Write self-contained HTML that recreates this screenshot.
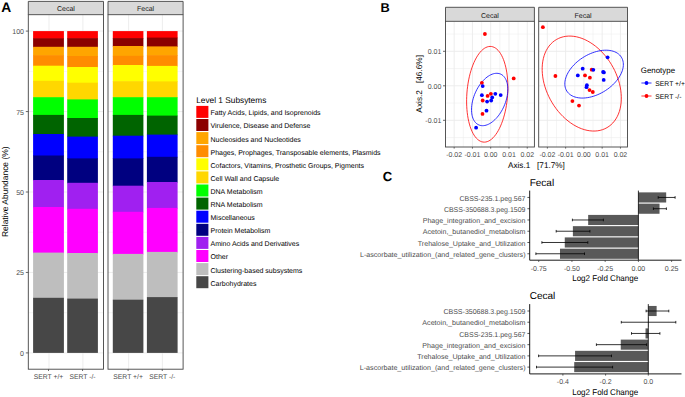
<!DOCTYPE html>
<html><head><meta charset="utf-8"><style>
html,body{margin:0;padding:0;background:#fff;}
svg{display:block;font-family:"Liberation Sans", sans-serif;text-rendering:geometricPrecision;}
</style></head><body>
<svg width="685" height="397" viewBox="0 0 685 397">
<rect width="685" height="397" fill="#fff"/>
<text x="1.20" y="12.00" font-size="13.8" text-anchor="start" fill="#000" font-weight="bold" >A</text>
<rect x="28.30" y="14.70" width="75.20" height="354.50" fill="#FFFFFF"/>
<line x1="28.30" y1="312.68" x2="103.50" y2="312.68" stroke="#EBEBEB" stroke-width="0.5"/>
<line x1="28.30" y1="232.22" x2="103.50" y2="232.22" stroke="#EBEBEB" stroke-width="0.5"/>
<line x1="28.30" y1="151.78" x2="103.50" y2="151.78" stroke="#EBEBEB" stroke-width="0.5"/>
<line x1="28.30" y1="71.33" x2="103.50" y2="71.33" stroke="#EBEBEB" stroke-width="0.5"/>
<line x1="28.30" y1="352.90" x2="103.50" y2="352.90" stroke="#EBEBEB" stroke-width="0.9"/>
<line x1="28.30" y1="272.45" x2="103.50" y2="272.45" stroke="#EBEBEB" stroke-width="0.9"/>
<line x1="28.30" y1="192.00" x2="103.50" y2="192.00" stroke="#EBEBEB" stroke-width="0.9"/>
<line x1="28.30" y1="111.55" x2="103.50" y2="111.55" stroke="#EBEBEB" stroke-width="0.9"/>
<line x1="28.30" y1="31.10" x2="103.50" y2="31.10" stroke="#EBEBEB" stroke-width="0.9"/>
<line x1="49.00" y1="14.70" x2="49.00" y2="369.20" stroke="#EBEBEB" stroke-width="0.9"/>
<line x1="82.90" y1="14.70" x2="82.90" y2="369.20" stroke="#EBEBEB" stroke-width="0.9"/>
<rect x="33.10" y="31.10" width="30.80" height="7.80" fill="#FF0000"/>
<rect x="33.10" y="38.30" width="30.80" height="9.10" fill="#8B0000"/>
<rect x="33.10" y="46.80" width="30.80" height="9.00" fill="#FFA500"/>
<rect x="33.10" y="55.20" width="30.80" height="11.10" fill="#FF8C00"/>
<rect x="33.10" y="65.70" width="30.80" height="15.70" fill="#FFFF00"/>
<rect x="33.10" y="80.80" width="30.80" height="17.00" fill="#FFD700"/>
<rect x="33.10" y="97.20" width="30.80" height="18.30" fill="#00FF00"/>
<rect x="33.10" y="114.90" width="30.80" height="19.70" fill="#006400"/>
<rect x="33.10" y="134.00" width="30.80" height="22.10" fill="#0000FF"/>
<rect x="33.10" y="155.50" width="30.80" height="25.10" fill="#000080"/>
<rect x="33.10" y="180.00" width="30.80" height="27.60" fill="#A020F0"/>
<rect x="33.10" y="207.00" width="30.80" height="46.20" fill="#FF00FF"/>
<rect x="33.10" y="252.60" width="30.80" height="45.80" fill="#BEBEBE"/>
<rect x="33.10" y="297.80" width="30.80" height="55.10" fill="#474747"/>
<rect x="67.20" y="31.10" width="30.70" height="7.70" fill="#FF0000"/>
<rect x="67.20" y="38.20" width="30.70" height="9.20" fill="#8B0000"/>
<rect x="67.20" y="46.80" width="30.70" height="9.80" fill="#FFA500"/>
<rect x="67.20" y="56.00" width="30.70" height="11.60" fill="#FF8C00"/>
<rect x="67.20" y="67.00" width="30.70" height="16.30" fill="#FFFF00"/>
<rect x="67.20" y="82.70" width="30.70" height="17.30" fill="#FFD700"/>
<rect x="67.20" y="99.40" width="30.70" height="19.20" fill="#00FF00"/>
<rect x="67.20" y="118.00" width="30.70" height="19.20" fill="#006400"/>
<rect x="67.20" y="136.60" width="30.70" height="22.40" fill="#0000FF"/>
<rect x="67.20" y="158.40" width="30.70" height="25.00" fill="#000080"/>
<rect x="67.20" y="182.80" width="30.70" height="26.60" fill="#A020F0"/>
<rect x="67.20" y="208.80" width="30.70" height="44.80" fill="#FF00FF"/>
<rect x="67.20" y="253.00" width="30.70" height="46.20" fill="#BEBEBE"/>
<rect x="67.20" y="298.60" width="30.70" height="54.30" fill="#474747"/>
<rect x="28.30" y="1.40" width="75.20" height="13.30" fill="#D9D9D9"/>
<path d="M28.30,14.70 V1.40 H103.50 V14.70" fill="none" stroke="#444444" stroke-width="0.9"/>
<rect x="28.30" y="14.70" width="75.20" height="354.50" fill="none" stroke="#444444" stroke-width="0.9"/>
<text x="65.90" y="11.20" font-size="7" text-anchor="middle" fill="#1A1A1A" font-weight="normal" >Cecal</text>
<line x1="48.50" y1="369.20" x2="48.50" y2="371.00" stroke="#444444" stroke-width="0.8"/>
<text x="48.50" y="379.30" font-size="6.8" text-anchor="middle" fill="#4D4D4D" font-weight="normal" >SERT +/+</text>
<line x1="82.55" y1="369.20" x2="82.55" y2="371.00" stroke="#444444" stroke-width="0.8"/>
<text x="82.55" y="379.30" font-size="6.8" text-anchor="middle" fill="#4D4D4D" font-weight="normal" >SERT -/-</text>
<rect x="108.00" y="14.70" width="75.10" height="354.50" fill="#FFFFFF"/>
<line x1="108.00" y1="312.68" x2="183.10" y2="312.68" stroke="#EBEBEB" stroke-width="0.5"/>
<line x1="108.00" y1="232.22" x2="183.10" y2="232.22" stroke="#EBEBEB" stroke-width="0.5"/>
<line x1="108.00" y1="151.78" x2="183.10" y2="151.78" stroke="#EBEBEB" stroke-width="0.5"/>
<line x1="108.00" y1="71.33" x2="183.10" y2="71.33" stroke="#EBEBEB" stroke-width="0.5"/>
<line x1="108.00" y1="352.90" x2="183.10" y2="352.90" stroke="#EBEBEB" stroke-width="0.9"/>
<line x1="108.00" y1="272.45" x2="183.10" y2="272.45" stroke="#EBEBEB" stroke-width="0.9"/>
<line x1="108.00" y1="192.00" x2="183.10" y2="192.00" stroke="#EBEBEB" stroke-width="0.9"/>
<line x1="108.00" y1="111.55" x2="183.10" y2="111.55" stroke="#EBEBEB" stroke-width="0.9"/>
<line x1="108.00" y1="31.10" x2="183.10" y2="31.10" stroke="#EBEBEB" stroke-width="0.9"/>
<line x1="128.60" y1="14.70" x2="128.60" y2="369.20" stroke="#EBEBEB" stroke-width="0.9"/>
<line x1="162.40" y1="14.70" x2="162.40" y2="369.20" stroke="#EBEBEB" stroke-width="0.9"/>
<rect x="112.80" y="31.10" width="30.60" height="7.60" fill="#FF0000"/>
<rect x="112.80" y="38.10" width="30.60" height="8.50" fill="#8B0000"/>
<rect x="112.80" y="46.00" width="30.60" height="10.40" fill="#FFA500"/>
<rect x="112.80" y="55.80" width="30.60" height="9.80" fill="#FF8C00"/>
<rect x="112.80" y="65.00" width="30.60" height="16.80" fill="#FFFF00"/>
<rect x="112.80" y="81.20" width="30.60" height="16.60" fill="#FFD700"/>
<rect x="112.80" y="97.20" width="30.60" height="18.30" fill="#00FF00"/>
<rect x="112.80" y="114.90" width="30.60" height="21.40" fill="#006400"/>
<rect x="112.80" y="135.70" width="30.60" height="23.30" fill="#0000FF"/>
<rect x="112.80" y="158.40" width="30.60" height="27.90" fill="#000080"/>
<rect x="112.80" y="185.70" width="30.60" height="26.70" fill="#A020F0"/>
<rect x="112.80" y="211.80" width="30.60" height="42.70" fill="#FF00FF"/>
<rect x="112.80" y="253.90" width="30.60" height="46.40" fill="#BEBEBE"/>
<rect x="112.80" y="299.70" width="30.60" height="53.20" fill="#474747"/>
<rect x="146.90" y="31.10" width="30.70" height="7.10" fill="#FF0000"/>
<rect x="146.90" y="37.60" width="30.70" height="9.40" fill="#8B0000"/>
<rect x="146.90" y="46.40" width="30.70" height="9.40" fill="#FFA500"/>
<rect x="146.90" y="55.20" width="30.70" height="11.30" fill="#FF8C00"/>
<rect x="146.90" y="65.90" width="30.70" height="16.10" fill="#FFFF00"/>
<rect x="146.90" y="81.40" width="30.70" height="16.40" fill="#FFD700"/>
<rect x="146.90" y="97.20" width="30.70" height="19.00" fill="#00FF00"/>
<rect x="146.90" y="115.60" width="30.70" height="19.60" fill="#006400"/>
<rect x="146.90" y="134.60" width="30.70" height="22.80" fill="#0000FF"/>
<rect x="146.90" y="156.80" width="30.70" height="25.80" fill="#000080"/>
<rect x="146.90" y="182.00" width="30.70" height="26.50" fill="#A020F0"/>
<rect x="146.90" y="207.90" width="30.70" height="44.60" fill="#FF00FF"/>
<rect x="146.90" y="251.90" width="30.70" height="45.80" fill="#BEBEBE"/>
<rect x="146.90" y="297.10" width="30.70" height="55.80" fill="#474747"/>
<rect x="108.00" y="1.40" width="75.10" height="13.30" fill="#D9D9D9"/>
<path d="M108.00,14.70 V1.40 H183.10 V14.70" fill="none" stroke="#444444" stroke-width="0.9"/>
<rect x="108.00" y="14.70" width="75.10" height="354.50" fill="none" stroke="#444444" stroke-width="0.9"/>
<text x="145.55" y="11.20" font-size="7" text-anchor="middle" fill="#1A1A1A" font-weight="normal" >Fecal</text>
<line x1="128.10" y1="369.20" x2="128.10" y2="371.00" stroke="#444444" stroke-width="0.8"/>
<text x="128.10" y="379.30" font-size="6.8" text-anchor="middle" fill="#4D4D4D" font-weight="normal" >SERT +/+</text>
<line x1="162.25" y1="369.20" x2="162.25" y2="371.00" stroke="#444444" stroke-width="0.8"/>
<text x="162.25" y="379.30" font-size="6.8" text-anchor="middle" fill="#4D4D4D" font-weight="normal" >SERT -/-</text>
<line x1="25.80" y1="352.90" x2="28.30" y2="352.90" stroke="#444444" stroke-width="0.8"/>
<text x="24.00" y="355.90" font-size="7" text-anchor="end" fill="#4D4D4D" font-weight="normal" >0</text>
<line x1="25.80" y1="272.45" x2="28.30" y2="272.45" stroke="#444444" stroke-width="0.8"/>
<text x="24.00" y="275.45" font-size="7" text-anchor="end" fill="#4D4D4D" font-weight="normal" >25</text>
<line x1="25.80" y1="192.00" x2="28.30" y2="192.00" stroke="#444444" stroke-width="0.8"/>
<text x="24.00" y="195.00" font-size="7" text-anchor="end" fill="#4D4D4D" font-weight="normal" >50</text>
<line x1="25.80" y1="111.55" x2="28.30" y2="111.55" stroke="#444444" stroke-width="0.8"/>
<text x="24.00" y="114.55" font-size="7" text-anchor="end" fill="#4D4D4D" font-weight="normal" >75</text>
<line x1="25.80" y1="31.10" x2="28.30" y2="31.10" stroke="#444444" stroke-width="0.8"/>
<text x="24.00" y="34.10" font-size="7" text-anchor="end" fill="#4D4D4D" font-weight="normal" >100</text>
<text transform="translate(7.5,191.75) rotate(-90)" font-size="8.45" text-anchor="middle" fill="#000">Relative Abundance (%)</text>
<text x="196.20" y="103.00" font-size="8.3" text-anchor="start" fill="#000" font-weight="normal" >Level 1 Subsytems</text>
<rect x="196.30" y="105.90" width="12.10" height="12.00" fill="#FF0000"/>
<text x="210.50" y="115.30" font-size="7.0" text-anchor="start" fill="#000" font-weight="normal" >Fatty Acids, Lipids, and Isoprenoids</text>
<rect x="196.30" y="119.00" width="12.10" height="12.00" fill="#8B0000"/>
<text x="210.50" y="128.40" font-size="7.0" text-anchor="start" fill="#000" font-weight="normal" >Virulence, Disease and Defense</text>
<rect x="196.30" y="132.10" width="12.10" height="12.00" fill="#FFA500"/>
<text x="210.50" y="141.50" font-size="7.0" text-anchor="start" fill="#000" font-weight="normal" >Nucleosides and Nucleotides</text>
<rect x="196.30" y="145.20" width="12.10" height="12.00" fill="#FF8C00"/>
<text x="210.50" y="154.60" font-size="7.0" text-anchor="start" fill="#000" font-weight="normal" >Phages, Prophages, Transposable elements, Plasmids</text>
<rect x="196.30" y="158.30" width="12.10" height="12.00" fill="#FFFF00"/>
<text x="210.50" y="167.70" font-size="7.0" text-anchor="start" fill="#000" font-weight="normal" >Cofactors, Vitamins, Prosthetic Groups, Pigments</text>
<rect x="196.30" y="171.40" width="12.10" height="12.00" fill="#FFD700"/>
<text x="210.50" y="180.80" font-size="7.0" text-anchor="start" fill="#000" font-weight="normal" >Cell Wall and Capsule</text>
<rect x="196.30" y="184.50" width="12.10" height="12.00" fill="#00FF00"/>
<text x="210.50" y="193.90" font-size="7.0" text-anchor="start" fill="#000" font-weight="normal" >DNA Metabolism</text>
<rect x="196.30" y="197.60" width="12.10" height="12.00" fill="#006400"/>
<text x="210.50" y="207.00" font-size="7.0" text-anchor="start" fill="#000" font-weight="normal" >RNA Metabolism</text>
<rect x="196.30" y="210.70" width="12.10" height="12.00" fill="#0000FF"/>
<text x="210.50" y="220.10" font-size="7.0" text-anchor="start" fill="#000" font-weight="normal" >Miscellaneous</text>
<rect x="196.30" y="223.80" width="12.10" height="12.00" fill="#000080"/>
<text x="210.50" y="233.20" font-size="7.0" text-anchor="start" fill="#000" font-weight="normal" >Protein Metabolism</text>
<rect x="196.30" y="236.90" width="12.10" height="12.00" fill="#A020F0"/>
<text x="210.50" y="246.30" font-size="7.0" text-anchor="start" fill="#000" font-weight="normal" >Amino Acids and Derivatives</text>
<rect x="196.30" y="250.00" width="12.10" height="12.00" fill="#FF00FF"/>
<text x="210.50" y="259.40" font-size="7.0" text-anchor="start" fill="#000" font-weight="normal" >Other</text>
<rect x="196.30" y="263.10" width="12.10" height="12.00" fill="#BEBEBE"/>
<text x="210.50" y="272.50" font-size="7.0" text-anchor="start" fill="#000" font-weight="normal" >Clustering-based subsystems</text>
<rect x="196.30" y="276.20" width="12.10" height="12.00" fill="#474747"/>
<text x="210.50" y="285.60" font-size="7.0" text-anchor="start" fill="#000" font-weight="normal" >Carbohydrates</text>
<text x="380.60" y="12.30" font-size="12.8" text-anchor="start" fill="#000" font-weight="bold" >B</text>
<rect x="445.50" y="21.30" width="88.90" height="125.70" fill="#FFFFFF"/>
<clipPath id="cp0"><rect x="445.5" y="21.3" width="88.89999999999998" height="125.7"/></clipPath>
<g clip-path="url(#cp0)">
<line x1="445.02" y1="21.30" x2="445.02" y2="147.00" stroke="#EBEBEB" stroke-width="0.5"/>
<line x1="463.30" y1="21.30" x2="463.30" y2="147.00" stroke="#EBEBEB" stroke-width="0.5"/>
<line x1="481.56" y1="21.30" x2="481.56" y2="147.00" stroke="#EBEBEB" stroke-width="0.5"/>
<line x1="499.83" y1="21.30" x2="499.83" y2="147.00" stroke="#EBEBEB" stroke-width="0.5"/>
<line x1="518.11" y1="21.30" x2="518.11" y2="147.00" stroke="#EBEBEB" stroke-width="0.5"/>
<line x1="536.38" y1="21.30" x2="536.38" y2="147.00" stroke="#EBEBEB" stroke-width="0.5"/>
<line x1="445.50" y1="137.55" x2="534.40" y2="137.55" stroke="#EBEBEB" stroke-width="0.5"/>
<line x1="445.50" y1="103.05" x2="534.40" y2="103.05" stroke="#EBEBEB" stroke-width="0.5"/>
<line x1="445.50" y1="68.55" x2="534.40" y2="68.55" stroke="#EBEBEB" stroke-width="0.5"/>
<line x1="445.50" y1="34.05" x2="534.40" y2="34.05" stroke="#EBEBEB" stroke-width="0.5"/>
<line x1="454.16" y1="21.30" x2="454.16" y2="147.00" stroke="#EBEBEB" stroke-width="0.9"/>
<line x1="472.43" y1="21.30" x2="472.43" y2="147.00" stroke="#EBEBEB" stroke-width="0.9"/>
<line x1="490.70" y1="21.30" x2="490.70" y2="147.00" stroke="#EBEBEB" stroke-width="0.9"/>
<line x1="508.97" y1="21.30" x2="508.97" y2="147.00" stroke="#EBEBEB" stroke-width="0.9"/>
<line x1="527.24" y1="21.30" x2="527.24" y2="147.00" stroke="#EBEBEB" stroke-width="0.9"/>
<line x1="445.50" y1="120.30" x2="534.40" y2="120.30" stroke="#EBEBEB" stroke-width="0.9"/>
<line x1="445.50" y1="85.80" x2="534.40" y2="85.80" stroke="#EBEBEB" stroke-width="0.9"/>
<line x1="445.50" y1="51.30" x2="534.40" y2="51.30" stroke="#EBEBEB" stroke-width="0.9"/>
<polygon points="507.78,92.19 507.59,95.53 507.29,98.86 506.90,102.17 506.41,105.45 505.83,108.67 505.16,111.81 504.40,114.88 503.55,117.84 502.63,120.69 501.63,123.41 500.57,125.99 499.43,128.41 498.24,130.67 497.00,132.75 495.70,134.64 494.37,136.34 493.00,137.83 491.60,139.11 490.19,140.17 488.75,141.00 487.31,141.61 485.87,141.99 484.44,142.14 483.02,142.05 481.62,141.73 480.25,141.18 478.91,140.40 477.62,139.40 476.37,138.17 475.17,136.74 474.03,135.09 472.96,133.25 471.95,131.21 471.02,129.00 470.17,126.62 469.41,124.08 468.73,121.39 468.14,118.58 467.64,115.64 467.24,112.60 466.93,109.47 466.73,106.27 466.62,103.01 466.62,99.70 466.72,96.37 466.91,93.03 467.21,89.70 467.60,86.39 468.09,83.11 468.67,79.89 469.34,76.75 470.10,73.68 470.95,70.72 471.87,67.87 472.87,65.15 473.93,62.57 475.07,60.15 476.26,57.89 477.50,55.81 478.80,53.92 480.13,52.22 481.50,50.73 482.90,49.45 484.31,48.39 485.75,47.56 487.19,46.95 488.63,46.57 490.06,46.42 491.48,46.51 492.88,46.83 494.25,47.38 495.59,48.16 496.88,49.16 498.13,50.39 499.33,51.82 500.47,53.47 501.54,55.31 502.55,57.35 503.48,59.56 504.33,61.94 505.09,64.48 505.77,67.17 506.36,69.98 506.86,72.92 507.26,75.96 507.57,79.09 507.77,82.29 507.88,85.55 507.88,88.86" fill="none" stroke="#FF0000" stroke-width="0.8"/>
<polygon points="507.32,95.24 506.99,97.05 506.56,98.88 506.05,100.70 505.47,102.53 504.81,104.34 504.07,106.12 503.26,107.87 502.39,109.58 501.45,111.24 500.46,112.85 499.42,114.39 498.32,115.86 497.19,117.24 496.02,118.54 494.81,119.75 493.59,120.86 492.34,121.87 491.08,122.76 489.81,123.55 488.55,124.21 487.29,124.76 486.04,125.18 484.80,125.48 483.59,125.65 482.42,125.69 481.27,125.60 480.17,125.39 479.11,125.05 478.11,124.59 477.16,124.01 476.27,123.30 475.45,122.48 474.70,121.55 474.02,120.51 473.41,119.37 472.89,118.13 472.44,116.80 472.08,115.38 471.81,113.89 471.63,112.33 471.53,110.70 471.52,109.03 471.59,107.30 471.76,105.54 472.02,103.74 472.35,101.93 472.78,100.10 473.29,98.28 473.87,96.45 474.53,94.64 475.27,92.86 476.08,91.11 476.95,89.40 477.89,87.74 478.88,86.13 479.92,84.59 481.02,83.12 482.15,81.74 483.32,80.44 484.53,79.23 485.75,78.12 487.00,77.11 488.26,76.22 489.53,75.43 490.79,74.77 492.05,74.22 493.30,73.80 494.54,73.50 495.75,73.33 496.92,73.29 498.07,73.38 499.17,73.59 500.23,73.93 501.23,74.39 502.18,74.97 503.07,75.68 503.89,76.50 504.64,77.43 505.32,78.47 505.93,79.61 506.45,80.85 506.90,82.18 507.26,83.60 507.53,85.09 507.71,86.65 507.81,88.28 507.82,89.95 507.75,91.68 507.58,93.44" fill="none" stroke="#0000FF" stroke-width="0.8"/>
<circle cx="481.9" cy="82.8" r="1.9" fill="#FF0000"/>
<circle cx="513.7" cy="78.4" r="1.9" fill="#FF0000"/>
<circle cx="487.6" cy="95.9" r="1.9" fill="#FF0000"/>
<circle cx="490.9" cy="93.8" r="1.9" fill="#FF0000"/>
<circle cx="482.7" cy="100.5" r="1.9" fill="#FF0000"/>
<circle cx="482.5" cy="113.9" r="1.9" fill="#FF0000"/>
<circle cx="484.9" cy="34.0" r="1.9" fill="#FF0000"/>
<circle cx="482.7" cy="86.1" r="1.9" fill="#0000FF"/>
<circle cx="481.9" cy="95.2" r="1.9" fill="#0000FF"/>
<circle cx="495.3" cy="93.8" r="1.9" fill="#0000FF"/>
<circle cx="500.7" cy="95.1" r="1.9" fill="#0000FF"/>
<circle cx="492.2" cy="97.4" r="1.9" fill="#0000FF"/>
<circle cx="491.2" cy="100.5" r="1.9" fill="#0000FF"/>
<circle cx="487.1" cy="101.6" r="1.9" fill="#0000FF"/>
<circle cx="486.5" cy="110.7" r="1.9" fill="#0000FF"/>
<circle cx="476.1" cy="127.7" r="1.9" fill="#0000FF"/>
</g>
<rect x="445.50" y="7.30" width="88.90" height="14.00" fill="#D9D9D9"/>
<path d="M445.50,21.30 V7.30 H534.40 V21.30" fill="none" stroke="#444444" stroke-width="0.9"/>
<rect x="445.50" y="21.30" width="88.90" height="125.70" fill="none" stroke="#444444" stroke-width="0.9"/>
<text x="489.95" y="17.70" font-size="7" text-anchor="middle" fill="#1A1A1A" font-weight="normal" >Cecal</text>
<line x1="454.16" y1="147.00" x2="454.16" y2="148.60" stroke="#444444" stroke-width="0.8"/>
<text x="454.16" y="157.00" font-size="7" text-anchor="middle" fill="#4D4D4D" font-weight="normal" >-0.02</text>
<line x1="472.43" y1="147.00" x2="472.43" y2="148.60" stroke="#444444" stroke-width="0.8"/>
<text x="472.43" y="157.00" font-size="7" text-anchor="middle" fill="#4D4D4D" font-weight="normal" >-0.01</text>
<line x1="490.70" y1="147.00" x2="490.70" y2="148.60" stroke="#444444" stroke-width="0.8"/>
<text x="490.70" y="157.00" font-size="7" text-anchor="middle" fill="#4D4D4D" font-weight="normal" >0.00</text>
<line x1="508.97" y1="147.00" x2="508.97" y2="148.60" stroke="#444444" stroke-width="0.8"/>
<text x="508.97" y="157.00" font-size="7" text-anchor="middle" fill="#4D4D4D" font-weight="normal" >0.01</text>
<line x1="527.24" y1="147.00" x2="527.24" y2="148.60" stroke="#444444" stroke-width="0.8"/>
<text x="527.24" y="157.00" font-size="7" text-anchor="middle" fill="#4D4D4D" font-weight="normal" >0.02</text>
<rect x="538.70" y="21.30" width="88.80" height="125.70" fill="#FFFFFF"/>
<clipPath id="cp1"><rect x="538.7" y="21.3" width="88.79999999999995" height="125.7"/></clipPath>
<g clip-path="url(#cp1)">
<line x1="538.23" y1="21.30" x2="538.23" y2="147.00" stroke="#EBEBEB" stroke-width="0.5"/>
<line x1="556.50" y1="21.30" x2="556.50" y2="147.00" stroke="#EBEBEB" stroke-width="0.5"/>
<line x1="574.77" y1="21.30" x2="574.77" y2="147.00" stroke="#EBEBEB" stroke-width="0.5"/>
<line x1="593.04" y1="21.30" x2="593.04" y2="147.00" stroke="#EBEBEB" stroke-width="0.5"/>
<line x1="611.31" y1="21.30" x2="611.31" y2="147.00" stroke="#EBEBEB" stroke-width="0.5"/>
<line x1="629.58" y1="21.30" x2="629.58" y2="147.00" stroke="#EBEBEB" stroke-width="0.5"/>
<line x1="538.70" y1="137.55" x2="627.50" y2="137.55" stroke="#EBEBEB" stroke-width="0.5"/>
<line x1="538.70" y1="103.05" x2="627.50" y2="103.05" stroke="#EBEBEB" stroke-width="0.5"/>
<line x1="538.70" y1="68.55" x2="627.50" y2="68.55" stroke="#EBEBEB" stroke-width="0.5"/>
<line x1="538.70" y1="34.05" x2="627.50" y2="34.05" stroke="#EBEBEB" stroke-width="0.5"/>
<line x1="547.36" y1="21.30" x2="547.36" y2="147.00" stroke="#EBEBEB" stroke-width="0.9"/>
<line x1="565.63" y1="21.30" x2="565.63" y2="147.00" stroke="#EBEBEB" stroke-width="0.9"/>
<line x1="583.90" y1="21.30" x2="583.90" y2="147.00" stroke="#EBEBEB" stroke-width="0.9"/>
<line x1="602.17" y1="21.30" x2="602.17" y2="147.00" stroke="#EBEBEB" stroke-width="0.9"/>
<line x1="620.44" y1="21.30" x2="620.44" y2="147.00" stroke="#EBEBEB" stroke-width="0.9"/>
<line x1="538.70" y1="120.30" x2="627.50" y2="120.30" stroke="#EBEBEB" stroke-width="0.9"/>
<line x1="538.70" y1="85.80" x2="627.50" y2="85.80" stroke="#EBEBEB" stroke-width="0.9"/>
<line x1="538.70" y1="51.30" x2="627.50" y2="51.30" stroke="#EBEBEB" stroke-width="0.9"/>
<polygon points="620.77,90.23 621.14,93.50 621.32,96.71 621.31,99.87 621.10,102.94 620.70,105.92 620.11,108.79 619.34,111.53 618.38,114.14 617.24,116.60 615.93,118.90 614.46,121.03 612.82,122.97 611.03,124.73 609.10,126.28 607.04,127.62 604.85,128.75 602.56,129.66 600.16,130.35 597.67,130.81 595.10,131.03 592.47,131.03 589.78,130.79 587.06,130.33 584.31,129.63 581.55,128.72 578.78,127.58 576.04,126.22 573.32,124.66 570.64,122.90 568.02,120.95 565.46,118.82 562.98,116.51 560.60,114.04 558.31,111.43 556.15,108.68 554.10,105.80 552.19,102.82 550.43,99.75 548.81,96.59 547.36,93.37 546.08,90.11 544.97,86.81 544.04,83.50 543.29,80.18 542.73,76.89 542.36,73.62 542.18,70.41 542.19,67.25 542.40,64.18 542.80,61.20 543.39,58.33 544.16,55.59 545.12,52.98 546.26,50.52 547.57,48.22 549.04,46.09 550.68,44.15 552.47,42.39 554.40,40.84 556.46,39.50 558.65,38.37 560.94,37.46 563.34,36.77 565.83,36.31 568.40,36.09 571.03,36.09 573.72,36.33 576.44,36.79 579.19,37.49 581.95,38.40 584.72,39.54 587.46,40.90 590.18,42.46 592.86,44.22 595.48,46.17 598.04,48.30 600.52,50.61 602.90,53.08 605.19,55.69 607.35,58.44 609.40,61.32 611.31,64.30 613.07,67.37 614.69,70.53 616.14,73.75 617.42,77.01 618.53,80.31 619.46,83.62 620.21,86.94" fill="none" stroke="#FF0000" stroke-width="0.8"/>
<polygon points="622.85,68.71 622.41,70.35 621.82,72.01 621.10,73.68 620.24,75.35 619.26,77.01 618.16,78.66 616.94,80.29 615.61,81.89 614.17,83.45 612.64,84.97 611.01,86.43 609.31,87.83 607.53,89.17 605.68,90.43 603.78,91.61 601.83,92.71 599.84,93.72 597.82,94.63 595.79,95.44 593.75,96.15 591.71,96.75 589.68,97.24 587.67,97.62 585.69,97.89 583.76,98.04 581.87,98.07 580.05,97.98 578.29,97.78 576.61,97.46 575.01,97.03 573.51,96.49 572.11,95.84 570.81,95.09 569.63,94.23 568.57,93.27 567.63,92.22 566.82,91.08 566.15,89.86 565.61,88.57 565.21,87.20 564.95,85.77 564.83,84.28 564.85,82.74 565.02,81.16 565.33,79.55 565.77,77.91 566.36,76.25 567.08,74.58 567.94,72.91 568.92,71.25 570.02,69.60 571.24,67.97 572.57,66.37 574.01,64.81 575.54,63.29 577.17,61.83 578.87,60.43 580.65,59.09 582.50,57.83 584.40,56.65 586.35,55.55 588.34,54.54 590.36,53.63 592.39,52.82 594.43,52.11 596.47,51.51 598.50,51.02 600.51,50.64 602.49,50.37 604.42,50.22 606.31,50.19 608.13,50.28 609.89,50.48 611.57,50.80 613.17,51.23 614.67,51.77 616.07,52.42 617.37,53.17 618.55,54.03 619.61,54.99 620.55,56.04 621.36,57.18 622.03,58.40 622.57,59.69 622.97,61.06 623.23,62.49 623.35,63.98 623.33,65.52 623.16,67.10" fill="none" stroke="#0000FF" stroke-width="0.8"/>
<circle cx="542.9" cy="27.2" r="1.9" fill="#FF0000"/>
<circle cx="555.4" cy="76" r="1.9" fill="#FF0000"/>
<circle cx="591.7" cy="69.7" r="1.9" fill="#FF0000"/>
<circle cx="585" cy="75.4" r="1.9" fill="#FF0000"/>
<circle cx="589.9" cy="77.7" r="1.9" fill="#FF0000"/>
<circle cx="589.5" cy="90.1" r="1.9" fill="#FF0000"/>
<circle cx="592.8" cy="92" r="1.9" fill="#FF0000"/>
<circle cx="572.4" cy="101.1" r="1.9" fill="#FF0000"/>
<circle cx="579" cy="105.6" r="1.9" fill="#FF0000"/>
<circle cx="607.6" cy="57.3" r="1.9" fill="#0000FF"/>
<circle cx="582.7" cy="68.7" r="1.9" fill="#0000FF"/>
<circle cx="593.3" cy="69.8" r="1.9" fill="#0000FF"/>
<circle cx="603.1" cy="71.9" r="1.9" fill="#0000FF"/>
<circle cx="603.9" cy="72.4" r="1.9" fill="#0000FF"/>
<circle cx="577.8" cy="75.4" r="1.9" fill="#0000FF"/>
<circle cx="603.7" cy="79.9" r="1.9" fill="#0000FF"/>
<circle cx="586.9" cy="85.2" r="1.9" fill="#0000FF"/>
<circle cx="586.5" cy="87.2" r="1.9" fill="#0000FF"/>
</g>
<rect x="538.70" y="7.30" width="88.80" height="14.00" fill="#D9D9D9"/>
<path d="M538.70,21.30 V7.30 H627.50 V21.30" fill="none" stroke="#444444" stroke-width="0.9"/>
<rect x="538.70" y="21.30" width="88.80" height="125.70" fill="none" stroke="#444444" stroke-width="0.9"/>
<text x="583.10" y="17.70" font-size="7" text-anchor="middle" fill="#1A1A1A" font-weight="normal" >Fecal</text>
<line x1="547.36" y1="147.00" x2="547.36" y2="148.60" stroke="#444444" stroke-width="0.8"/>
<text x="547.36" y="157.00" font-size="7" text-anchor="middle" fill="#4D4D4D" font-weight="normal" >-0.02</text>
<line x1="565.63" y1="147.00" x2="565.63" y2="148.60" stroke="#444444" stroke-width="0.8"/>
<text x="565.63" y="157.00" font-size="7" text-anchor="middle" fill="#4D4D4D" font-weight="normal" >-0.01</text>
<line x1="583.90" y1="147.00" x2="583.90" y2="148.60" stroke="#444444" stroke-width="0.8"/>
<text x="583.90" y="157.00" font-size="7" text-anchor="middle" fill="#4D4D4D" font-weight="normal" >0.00</text>
<line x1="602.17" y1="147.00" x2="602.17" y2="148.60" stroke="#444444" stroke-width="0.8"/>
<text x="602.17" y="157.00" font-size="7" text-anchor="middle" fill="#4D4D4D" font-weight="normal" >0.01</text>
<line x1="620.44" y1="147.00" x2="620.44" y2="148.60" stroke="#444444" stroke-width="0.8"/>
<text x="620.44" y="157.00" font-size="7" text-anchor="middle" fill="#4D4D4D" font-weight="normal" >0.02</text>
<line x1="443.00" y1="51.30" x2="445.50" y2="51.30" stroke="#444444" stroke-width="0.8"/>
<text x="441.30" y="54.20" font-size="7" text-anchor="end" fill="#4D4D4D" font-weight="normal" >0.01</text>
<line x1="443.00" y1="85.80" x2="445.50" y2="85.80" stroke="#444444" stroke-width="0.8"/>
<text x="441.30" y="88.70" font-size="7" text-anchor="end" fill="#4D4D4D" font-weight="normal" >0.00</text>
<line x1="443.00" y1="120.30" x2="445.50" y2="120.30" stroke="#444444" stroke-width="0.8"/>
<text x="441.30" y="123.20" font-size="7" text-anchor="end" fill="#4D4D4D" font-weight="normal" >-0.01</text>
<text transform="translate(421.9,83.8) rotate(-90)" font-size="8.3" text-anchor="middle" fill="#000" xml:space="preserve">Axis.2   [46.6%]</text>
<text x="536.4" y="167.5" font-size="8.2" text-anchor="middle" fill="#000" xml:space="preserve">Axis.1   [71.7%]</text>
<text x="640.80" y="72.80" font-size="7.9" text-anchor="start" fill="#000" font-weight="normal" >Genotype</text>
<line x1="641.40" y1="83.00" x2="651.50" y2="83.00" stroke="#0000FF" stroke-width="0.8"/>
<circle cx="646.5" cy="83.0" r="1.9" fill="#0000FF"/>
<text x="655.30" y="85.90" font-size="6.8" text-anchor="start" fill="#000" font-weight="normal" >SERT +/+</text>
<line x1="641.40" y1="96.00" x2="651.50" y2="96.00" stroke="#FF0000" stroke-width="0.8"/>
<circle cx="646.5" cy="96.0" r="1.9" fill="#FF0000"/>
<text x="655.30" y="98.90" font-size="6.8" text-anchor="start" fill="#000" font-weight="normal" >SERT -/-</text>
<text x="382.80" y="181.30" font-size="13.1" text-anchor="start" fill="#000" font-weight="bold" >C</text>
<text x="529.70" y="185.80" font-size="10" text-anchor="start" fill="#000" font-weight="normal" >Fecal</text>
<rect x="638.40" y="192.38" width="27.78" height="10.13" fill="#595959"/>
<rect x="638.40" y="203.64" width="21.13" height="10.13" fill="#595959"/>
<rect x="588.16" y="214.91" width="50.24" height="10.13" fill="#595959"/>
<rect x="572.88" y="226.16" width="65.52" height="10.13" fill="#595959"/>
<rect x="564.77" y="237.42" width="73.63" height="10.13" fill="#595959"/>
<rect x="559.99" y="248.69" width="78.41" height="10.13" fill="#595959"/>
<line x1="638.40" y1="190.60" x2="638.40" y2="260.20" stroke="#000" stroke-width="0.8"/>
<line x1="658.20" y1="197.45" x2="675.10" y2="197.45" stroke="#000" stroke-width="0.8"/>
<line x1="658.20" y1="196.15" x2="658.20" y2="198.75" stroke="#000" stroke-width="0.8"/>
<line x1="675.10" y1="196.15" x2="675.10" y2="198.75" stroke="#000" stroke-width="0.8"/>
<line x1="527.40" y1="197.45" x2="529.70" y2="197.45" stroke="#333" stroke-width="0.8"/>
<text x="525.50" y="200.65" font-size="7.05" text-anchor="end" fill="#4D4D4D" font-weight="normal" textLength="66.00" lengthAdjust="spacingAndGlyphs">CBSS-235.1.peg.567</text>
<line x1="653.40" y1="208.71" x2="666.40" y2="208.71" stroke="#000" stroke-width="0.8"/>
<line x1="653.40" y1="207.41" x2="653.40" y2="210.01" stroke="#000" stroke-width="0.8"/>
<line x1="666.40" y1="207.41" x2="666.40" y2="210.01" stroke="#000" stroke-width="0.8"/>
<line x1="527.40" y1="208.71" x2="529.70" y2="208.71" stroke="#333" stroke-width="0.8"/>
<text x="525.50" y="211.91" font-size="7.05" text-anchor="end" fill="#4D4D4D" font-weight="normal" textLength="81.60" lengthAdjust="spacingAndGlyphs">CBSS-350688.3.peg.1509</text>
<line x1="572.40" y1="219.97" x2="603.40" y2="219.97" stroke="#000" stroke-width="0.8"/>
<line x1="572.40" y1="218.67" x2="572.40" y2="221.27" stroke="#000" stroke-width="0.8"/>
<line x1="603.40" y1="218.67" x2="603.40" y2="221.27" stroke="#000" stroke-width="0.8"/>
<line x1="527.40" y1="219.97" x2="529.70" y2="219.97" stroke="#333" stroke-width="0.8"/>
<text x="525.50" y="223.17" font-size="7.05" text-anchor="end" fill="#4D4D4D" font-weight="normal" textLength="102.80" lengthAdjust="spacingAndGlyphs">Phage_integration_and_excision</text>
<line x1="556.20" y1="231.23" x2="589.90" y2="231.23" stroke="#000" stroke-width="0.8"/>
<line x1="556.20" y1="229.93" x2="556.20" y2="232.53" stroke="#000" stroke-width="0.8"/>
<line x1="589.90" y1="229.93" x2="589.90" y2="232.53" stroke="#000" stroke-width="0.8"/>
<line x1="527.40" y1="231.23" x2="529.70" y2="231.23" stroke="#333" stroke-width="0.8"/>
<text x="525.50" y="234.43" font-size="7.05" text-anchor="end" fill="#4D4D4D" font-weight="normal" textLength="102.80" lengthAdjust="spacingAndGlyphs">Acetoin,_butanediol_metabolism</text>
<line x1="541.90" y1="242.49" x2="587.80" y2="242.49" stroke="#000" stroke-width="0.8"/>
<line x1="541.90" y1="241.19" x2="541.90" y2="243.79" stroke="#000" stroke-width="0.8"/>
<line x1="587.80" y1="241.19" x2="587.80" y2="243.79" stroke="#000" stroke-width="0.8"/>
<line x1="527.40" y1="242.49" x2="529.70" y2="242.49" stroke="#333" stroke-width="0.8"/>
<text x="525.50" y="245.69" font-size="7.05" text-anchor="end" fill="#4D4D4D" font-weight="normal" textLength="107.70" lengthAdjust="spacingAndGlyphs">Trehalose_Uptake_and_Utilization</text>
<line x1="535.90" y1="253.75" x2="584.50" y2="253.75" stroke="#000" stroke-width="0.8"/>
<line x1="535.90" y1="252.45" x2="535.90" y2="255.05" stroke="#000" stroke-width="0.8"/>
<line x1="584.50" y1="252.45" x2="584.50" y2="255.05" stroke="#000" stroke-width="0.8"/>
<line x1="527.40" y1="253.75" x2="529.70" y2="253.75" stroke="#333" stroke-width="0.8"/>
<text x="525.50" y="256.95" font-size="7.05" text-anchor="end" fill="#4D4D4D" font-weight="normal" textLength="165.50" lengthAdjust="spacingAndGlyphs">L-ascorbate_utilization_(and_related_gene_clusters)</text>
<line x1="529.70" y1="190.60" x2="529.70" y2="260.20" stroke="#000" stroke-width="0.9"/>
<line x1="529.70" y1="260.20" x2="681.50" y2="260.20" stroke="#000" stroke-width="0.9"/>
<line x1="538.72" y1="260.20" x2="538.72" y2="261.90" stroke="#333" stroke-width="0.8"/>
<text x="538.72" y="270.50" font-size="7" text-anchor="middle" fill="#4D4D4D" font-weight="normal" >-0.75</text>
<line x1="571.95" y1="260.20" x2="571.95" y2="261.90" stroke="#333" stroke-width="0.8"/>
<text x="571.95" y="270.50" font-size="7" text-anchor="middle" fill="#4D4D4D" font-weight="normal" >-0.50</text>
<line x1="605.17" y1="260.20" x2="605.17" y2="261.90" stroke="#333" stroke-width="0.8"/>
<text x="605.17" y="270.50" font-size="7" text-anchor="middle" fill="#4D4D4D" font-weight="normal" >-0.25</text>
<line x1="638.40" y1="260.20" x2="638.40" y2="261.90" stroke="#333" stroke-width="0.8"/>
<text x="638.40" y="270.50" font-size="7" text-anchor="middle" fill="#4D4D4D" font-weight="normal" >0.00</text>
<line x1="671.62" y1="260.20" x2="671.62" y2="261.90" stroke="#333" stroke-width="0.8"/>
<text x="671.62" y="270.50" font-size="7" text-anchor="middle" fill="#4D4D4D" font-weight="normal" >0.25</text>
<text x="605.20" y="281.20" font-size="8.4" text-anchor="middle" fill="#000" font-weight="normal" textLength="66" lengthAdjust="spacingAndGlyphs">Log2 Fold Change</text>
<text x="529.70" y="299.40" font-size="10" text-anchor="start" fill="#000" font-weight="normal" >Cecal</text>
<rect x="648.30" y="305.95" width="8.33" height="10.10" fill="#595959"/>
<rect x="648.30" y="317.17" width="0.43" height="10.10" fill="#595959"/>
<rect x="645.52" y="328.39" width="2.78" height="10.10" fill="#595959"/>
<rect x="620.76" y="339.61" width="27.54" height="10.10" fill="#595959"/>
<rect x="575.07" y="350.83" width="73.23" height="10.10" fill="#595959"/>
<rect x="574.22" y="362.05" width="74.08" height="10.10" fill="#595959"/>
<line x1="648.30" y1="304.10" x2="648.30" y2="373.90" stroke="#000" stroke-width="0.8"/>
<line x1="646.10" y1="311.00" x2="668.80" y2="311.00" stroke="#000" stroke-width="0.8"/>
<line x1="646.10" y1="309.70" x2="646.10" y2="312.30" stroke="#000" stroke-width="0.8"/>
<line x1="668.80" y1="309.70" x2="668.80" y2="312.30" stroke="#000" stroke-width="0.8"/>
<line x1="527.40" y1="311.00" x2="529.70" y2="311.00" stroke="#333" stroke-width="0.8"/>
<text x="525.50" y="314.20" font-size="7.05" text-anchor="end" fill="#4D4D4D" font-weight="normal" textLength="82.10" lengthAdjust="spacingAndGlyphs">CBSS-350688.3.peg.1509</text>
<line x1="621.30" y1="322.22" x2="675.80" y2="322.22" stroke="#000" stroke-width="0.8"/>
<line x1="621.30" y1="320.92" x2="621.30" y2="323.52" stroke="#000" stroke-width="0.8"/>
<line x1="675.80" y1="320.92" x2="675.80" y2="323.52" stroke="#000" stroke-width="0.8"/>
<line x1="527.40" y1="322.22" x2="529.70" y2="322.22" stroke="#333" stroke-width="0.8"/>
<text x="525.50" y="325.42" font-size="7.05" text-anchor="end" fill="#4D4D4D" font-weight="normal" textLength="103.20" lengthAdjust="spacingAndGlyphs">Acetoin,_butanediol_metabolism</text>
<line x1="631.50" y1="333.44" x2="659.90" y2="333.44" stroke="#000" stroke-width="0.8"/>
<line x1="631.50" y1="332.14" x2="631.50" y2="334.74" stroke="#000" stroke-width="0.8"/>
<line x1="659.90" y1="332.14" x2="659.90" y2="334.74" stroke="#000" stroke-width="0.8"/>
<line x1="527.40" y1="333.44" x2="529.70" y2="333.44" stroke="#333" stroke-width="0.8"/>
<text x="525.50" y="336.64" font-size="7.05" text-anchor="end" fill="#4D4D4D" font-weight="normal" textLength="66.20" lengthAdjust="spacingAndGlyphs">CBSS-235.1.peg.567</text>
<line x1="596.40" y1="344.66" x2="646.60" y2="344.66" stroke="#000" stroke-width="0.8"/>
<line x1="596.40" y1="343.36" x2="596.40" y2="345.96" stroke="#000" stroke-width="0.8"/>
<line x1="646.60" y1="343.36" x2="646.60" y2="345.96" stroke="#000" stroke-width="0.8"/>
<line x1="527.40" y1="344.66" x2="529.70" y2="344.66" stroke="#333" stroke-width="0.8"/>
<text x="525.50" y="347.86" font-size="7.05" text-anchor="end" fill="#4D4D4D" font-weight="normal" textLength="103.20" lengthAdjust="spacingAndGlyphs">Phage_integration_and_excision</text>
<line x1="538.60" y1="355.88" x2="611.50" y2="355.88" stroke="#000" stroke-width="0.8"/>
<line x1="538.60" y1="354.58" x2="538.60" y2="357.18" stroke="#000" stroke-width="0.8"/>
<line x1="611.50" y1="354.58" x2="611.50" y2="357.18" stroke="#000" stroke-width="0.8"/>
<line x1="527.40" y1="355.88" x2="529.70" y2="355.88" stroke="#333" stroke-width="0.8"/>
<text x="525.50" y="359.08" font-size="7.05" text-anchor="end" fill="#4D4D4D" font-weight="normal" textLength="108.30" lengthAdjust="spacingAndGlyphs">Trehalose_Uptake_and_Utilization</text>
<line x1="536.50" y1="367.10" x2="612.60" y2="367.10" stroke="#000" stroke-width="0.8"/>
<line x1="536.50" y1="365.80" x2="536.50" y2="368.40" stroke="#000" stroke-width="0.8"/>
<line x1="612.60" y1="365.80" x2="612.60" y2="368.40" stroke="#000" stroke-width="0.8"/>
<line x1="527.40" y1="367.10" x2="529.70" y2="367.10" stroke="#333" stroke-width="0.8"/>
<text x="525.50" y="370.30" font-size="7.05" text-anchor="end" fill="#4D4D4D" font-weight="normal" textLength="165.70" lengthAdjust="spacingAndGlyphs">L-ascorbate_utilization_(and_related_gene_clusters)</text>
<line x1="529.70" y1="304.10" x2="529.70" y2="373.90" stroke="#000" stroke-width="0.9"/>
<line x1="529.70" y1="373.90" x2="681.50" y2="373.90" stroke="#000" stroke-width="0.9"/>
<line x1="562.90" y1="373.90" x2="562.90" y2="375.60" stroke="#333" stroke-width="0.8"/>
<text x="562.90" y="383.90" font-size="7" text-anchor="middle" fill="#4D4D4D" font-weight="normal" >-0.4</text>
<line x1="605.60" y1="373.90" x2="605.60" y2="375.60" stroke="#333" stroke-width="0.8"/>
<text x="605.60" y="383.90" font-size="7" text-anchor="middle" fill="#4D4D4D" font-weight="normal" >-0.2</text>
<line x1="648.30" y1="373.90" x2="648.30" y2="375.60" stroke="#333" stroke-width="0.8"/>
<text x="648.30" y="383.90" font-size="7" text-anchor="middle" fill="#4D4D4D" font-weight="normal" >0.0</text>
<text x="605.20" y="395.30" font-size="8.4" text-anchor="middle" fill="#000" font-weight="normal" textLength="66" lengthAdjust="spacingAndGlyphs">Log2 Fold Change</text>
</svg>
</body></html>
